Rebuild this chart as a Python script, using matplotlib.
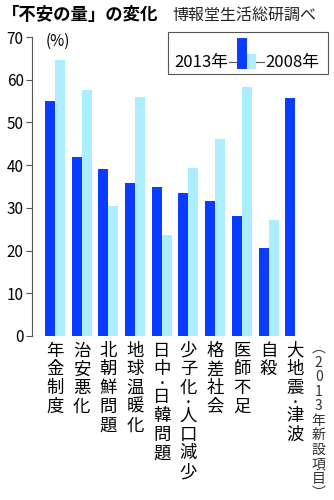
import matplotlib
matplotlib.use('Agg')
import numpy as np
import matplotlib.pyplot as plt
from matplotlib.patches import Rectangle
from matplotlib.lines import Line2D

plt.rcParams['font.family'] = ['Noto Sans CJK JP', 'DejaVu Sans']

categories = ['年金制度', '治安悪化', '北朝鮮問題', '地球温暖化', '日中・日韓問題',
              '少子化・人口減少', '格差社会', '医師不足', '自殺', '大地震・津波']
vals_2013 = [55.1, 41.8, 39.1, 35.9, 34.9, 33.5, 31.6, 28.1, 20.5, 55.7]
vals_2008 = [64.6, 57.6, 30.5, 56.0, 23.6, 39.3, 46.1, 58.4, 27.2, None]
yticks = [0, 10, 20, 30, 40, 50, 60, 70]
note = '︵2013年新設項目︶'

dark = '#0a3cff'
light = '#aaeeff'
grey = '#555555'

fig = plt.figure(figsize=(3.34, 5.0), dpi=100)
ax = fig.add_axes([32 / 334, 1 - 336 / 500, 302 / 334, 299 / 500])

x = np.arange(len(categories))
w = 0.375
ax.bar(x - w / 2, vals_2013, width=w, color=dark, linewidth=0)
x08 = [i for i, v in zip(x, vals_2008) if v is not None]
v08 = [v for v in vals_2008 if v is not None]
ax.bar(np.array(x08) + w / 2, v08, width=w, color=light, linewidth=0)

ax.set_xlim(-0.86, -0.86 + 302 / 26.7)
ax.set_ylim(0, 70)
ax.set_yticks(yticks)
ax.set_yticklabels([str(t) for t in yticks], fontsize=11)
ax.tick_params(axis='y', direction='out', length=4, color=grey, width=0.8, pad=2)
ax.set_xticks([])
for s in ['top', 'right', 'bottom']:
    ax.spines[s].set_visible(False)
ax.spines['left'].set_color(grey)
ax.spines['left'].set_linewidth(0.8)
ax.axhline(0, xmin=0, xmax=8 / 302, color=grey, lw=0.8)
ax.text(0.045, 0.985, '(%)', transform=ax.transAxes, fontsize=11, va='center', ha='left')

# vertical category labels, one char at a time
for i, name in enumerate(categories):
    off = 4
    for ch in name:
        if ch == '・':
            # small dot, takes half a step
            ax.annotate('•', xy=(i, 0), xycoords=('data', 'axes fraction'),
                        xytext=(0, -off - 3.2), textcoords='offset points',
                        ha='center', va='center', fontsize=6,
                        family='DejaVu Sans')
            off += 6.5
            continue
        ax.annotate(ch, xy=(i, 0), xycoords=('data', 'axes fraction'),
                    xytext=(0, -off), textcoords='offset points',
                    ha='center', va='top', fontsize=12.5)
        off += 13.5

off = 4
for ch in note:
    ax.annotate(ch, xy=(len(categories) - 1 + 0.88, 0), xycoords=('data', 'axes fraction'),
                xytext=(0, -off), textcoords='offset points',
                ha='center', va='top', fontsize=10, color='#333333',
                annotation_clip=False)
    off += 10.4

# title
fig.text(2 / 334, 1 - 15 / 500, '「不安の量」の変化', fontsize=12.5, fontweight='bold',
         va='center', ha='left')
fig.text(172 / 334, 1 - 15 / 500, '博報堂生活総研調べ', fontsize=11.5,
         va='center', ha='left', color='#222222')

# legend box
fig.patches.append(Rectangle((168 / 334, 1 - 74 / 500), 160 / 334, 42 / 500,
                             transform=fig.transFigure, fill=False,
                             edgecolor=grey, linewidth=0.8))
fig.patches.append(Rectangle((237 / 334, 1 - 69 / 500), 10 / 334, 31 / 500,
                             transform=fig.transFigure, color=dark, linewidth=0))
fig.patches.append(Rectangle((247 / 334, 1 - 69 / 500), 9 / 334, 15 / 500,
                             transform=fig.transFigure, color=light, linewidth=0))
fig.lines.append(Line2D([229 / 334, 237 / 334], [1 - 62 / 500] * 2,
                        transform=fig.transFigure, color=grey, lw=0.8))
fig.lines.append(Line2D([256 / 334, 264 / 334], [1 - 62 / 500] * 2,
                        transform=fig.transFigure, color=grey, lw=0.8))
fig.text(228 / 334, 1 - 62 / 500, '2013年', fontsize=12, ha='right', va='center')
fig.text(265 / 334, 1 - 62 / 500, '2008年', fontsize=12, ha='left', va='center')

fig.savefig('out.png', dpi=100)
